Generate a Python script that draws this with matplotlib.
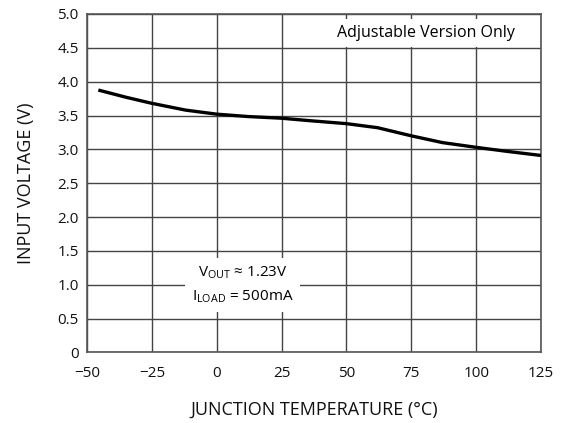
import matplotlib
matplotlib.use('Agg')
from matplotlib import pyplot as plt

# curve
temp_c = [-45, -35, -25, -12, 0, 12, 25, 37, 50, 62, 75, 87, 100, 112, 125]
v_in = [3.87, 3.77, 3.68, 3.58, 3.52, 3.485, 3.46, 3.42, 3.38, 3.32, 3.20, 3.10, 3.03, 2.97, 2.91]

x_ticks = [-50, -25, 0, 25, 50, 75, 100, 125]
y_ticks = [0, 0.5, 1.0, 1.5, 2.0, 2.5, 3.0, 3.5, 4.0, 4.5, 5.0]
y_tick_labels = ['0', '0.5', '1.0', '1.5', '2.0', '2.5', '3.0', '3.5', '4.0', '4.5', '5.0']
x_tick_labels = ['\u221250', '\u221225', '0', '25', '50', '75', '100', '125']

plt.rcParams['font.family'] = ['Open Sans', 'DejaVu Sans']
plt.rcParams['mathtext.fontset'] = 'custom'
plt.rcParams['mathtext.rm'] = 'Open Sans'

fig = plt.figure(figsize=(5.63, 4.23), dpi=100)
fig.set_facecolor('white')
ax = fig.add_axes([0.1545, 0.1667, 0.961 - 0.1545, 0.967 - 0.1667])

grid_c = '#444444'
ax.set_xlim(-50, 125)
ax.set_ylim(0, 5)
ax.set_xticks(x_ticks)
ax.set_xticklabels(x_tick_labels)
ax.set_yticks(y_ticks)
ax.set_yticklabels(y_tick_labels)
ax.grid(True, color=grid_c, linewidth=1)
ax.set_axisbelow(True)
ax.tick_params(length=0, labelsize=11, colors='#111111')
ax.tick_params(axis='x', pad=10)
ax.tick_params(axis='y', pad=6)
for s in ax.spines.values():
    s.set_color('#555555')
    s.set_linewidth(1.2)

ax.plot(temp_c, v_in, color='black', linewidth=2.4, zorder=3)

ax.set_xlabel('JUNCTION TEMPERATURE (\u00b0C)', fontsize=13, labelpad=14, color='#111111')
ax.set_ylabel('INPUT VOLTAGE (V)', fontsize=13, labelpad=16, color='#111111')

ax.text(80.5, 4.72, 'Adjustable Version Only', ha='center', va='center', fontsize=11.5,
        bbox=dict(facecolor='white', edgecolor='none', pad=4), zorder=4)
ax.text(10, 1.0, 'V$_{\\mathregular{OUT}}$ \u2248 1.23V\nI$_{\\mathregular{LOAD}}$ = 500mA',
        ha='center', va='center', fontsize=11, linespacing=1.55,
        bbox=dict(facecolor='white', edgecolor='none', pad=5), zorder=4)

fig.savefig('out.png', dpi=100)
